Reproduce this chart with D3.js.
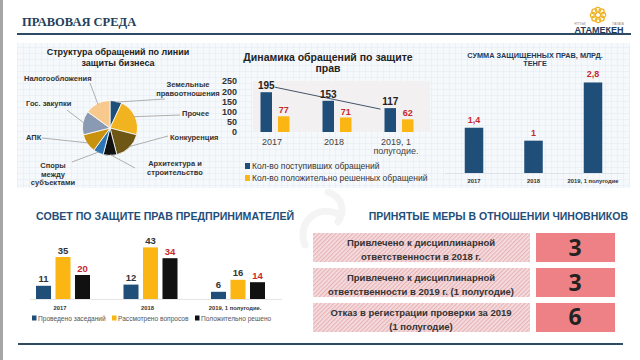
<!DOCTYPE html>
<html>
<head>
<meta charset="utf-8">
<script src="https://cdn.jsdelivr.net/npm/d3@7"></script>
<style>
  body { margin:0; background:#fff; }
  svg { display:block; font-family:"Liberation Sans", Arial, sans-serif; }
</style>
</head>
<body>
<script>
// pie: structure of appeals
var pieLabels = ["Земельные правоотношения","Прочее","Конкуренция","Архитектура и строительство","Споры между субъектами","АПК","Гос. закупки","Налогообложения"];
var pieValues = [7, 22, 17, 8, 6, 11, 14, 15];
var pieColors = ["#1f4e79","#f2b320","#6e5614","#111111","#2e75b6","#c8920f","#8a9ab2","#f7c98c"];

// dynamics of appeals
var dynYears = ["2017","2018","2019, 1 полугодие."];
var dynSeries = ["Кол-во поступивших обращений","Кол-во положительно решенных обращений"];
var dynReceived = [195, 153, 117];
var dynSolved = [77, 71, 62];
var dynTicks = [0, 50, 100, 150, 200, 250];

// sum of protected rights
var sumYears = ["2017","2018","2019, 1 полугодие"];
var sumValues = [1.4, 1, 2.8];
var sumLabels = ["1,4","1","2,8"];

// council
var councilYears = ["2017","2018","2019, 1 полугодие."];
var councilSeries = ["Проведено заседаний","Рассмотрено вопросов","Положительно решено"];
var councilMeetings = [11, 12, 6];
var councilQuestions = [35, 43, 16];
var councilSolved = [20, 34, 14];

// measures
var measureText = [["Привлечено к дисциплинарной","ответственности в 2018 г."],
                   ["Привлечено к дисциплинарной","ответственности в 2019 г. (1 полугодие)"],
                   ["Отказ в регистрации проверки за 2019","(1 полугодие)"]];
var measureValues = [3, 3, 6];

var W = 640, H = 360;
var navy = "#1f4e79", red = "#c8282d";

var svg = d3.select("body").append("svg").attr("width", W).attr("height", H);
var defs = svg.append("defs");

// grid pattern for the upper panels
var grid = defs.append("pattern").attr("id","grid").attr("width",6).attr("height",6)
  .attr("patternUnits","userSpaceOnUse");
grid.append("rect").attr("width",6).attr("height",6).attr("fill","#f6f9fc");
grid.append("path").attr("d","M6 0V6M0 6H6").attr("stroke","#e2eaf3").attr("stroke-width",1);

// hatch for the measures
var hatch = defs.append("pattern").attr("id","hatch").attr("width",3).attr("height",3)
  .attr("patternUnits","userSpaceOnUse").attr("patternTransform","rotate(45)");
hatch.append("rect").attr("width",3).attr("height",3).attr("fill","#f6dfe1");
hatch.append("rect").attr("width",1.3).attr("height",3).attr("fill","#e7b4b8");

// left edge bar
svg.append("rect").attr("x",0).attr("y",0).attr("width",3).attr("height",H).attr("fill","#a6a6a6");

// header
svg.append("text").attr("x",22).attr("y",26).text("ПРАВОВАЯ СРЕДА")
  .attr("font-family","'Liberation Serif', serif").attr("font-weight","bold")
  .attr("font-size",12.5).attr("fill","#23405c");
svg.append("line").attr("x1",17).attr("x2",631).attr("y1",34).attr("y2",34)
  .attr("stroke","#2f4b63").attr("stroke-width",2);

// logo
var logo = svg.append("g").attr("transform","translate(598,15)");
d3.range(8).forEach(function(i){
  var a = i*Math.PI/4;
  logo.append("circle").attr("cx",5*Math.cos(a)).attr("cy",5*Math.sin(a)).attr("r",2.6)
    .attr("fill","none").attr("stroke","#f0b323").attr("stroke-width",1.3);
});
svg.append("text").attr("x",599).attr("y",33).attr("text-anchor","middle").text("АТАМЕКЕН")
  .attr("font-size",9).attr("font-weight","bold").attr("fill","#1f3a5a");
svg.append("text").attr("x",580).attr("y",25).attr("text-anchor","middle").text("ҰЛТТЫҚ")
  .attr("font-size",3).attr("fill","#888");
svg.append("text").attr("x",618).attr("y",25).attr("text-anchor","middle").text("ПАЛАТА")
  .attr("font-size",3).attr("fill","#888");

// watermark
svg.append("path").attr("d","M305 245 C 296 222, 318 204, 338 214 M 328 192 C 342 197, 346 210, 338 222")
  .attr("fill","none").attr("stroke","#f4f4f4").attr("stroke-width",7).attr("stroke-linecap","round");

// panels background
svg.append("rect").attr("x",17).attr("y",43).attr("width",613).attr("height",145).attr("fill","url(#grid)");

// ---------- pie ----------
var pieC = [110, 128], R = 27.5;
var pg = svg.append("g").attr("transform","translate("+pieC+")");
var pie = d3.pie().sort(null)(pieValues);
var arc = d3.arc().innerRadius(0).outerRadius(R);
var edge = d3.arc().innerRadius(R-1).outerRadius(R-1);
pg.selectAll("path").data(pie).enter().append("path")
  .attr("d",arc).attr("fill",function(d,i){return pieColors[i];})
  .attr("stroke","#fff").attr("stroke-width",0.8);

[["Структура  обращений по линии",55],["защиты бизнеса",66]].forEach(function(t){
  svg.append("text").attr("x",118).attr("y",t[1]).attr("text-anchor","middle").text(t[0])
    .attr("font-size",9).attr("font-weight","bold").attr("fill","#222");
});

// label layout: [anchor, x, first baseline, line end x, line end y]
var pieLabelPos = [
  ["middle",188,87,165,99],
  ["start",182,116,180,115],
  ["start",170,140,168,136],
  ["middle",175,166,135,168],
  ["middle",53,168,72,162],
  ["start",26,140,42,138],
  ["start",26,106,67,110],
  ["start",24,81,90,83]
];
var pieLines = [["Земельные","правоотношения"],["Прочее"],["Конкуренция"],["Архитектура и","строительство"],
  ["Споры","между","субъектами"],["АПК"],["Гос. закупки"],["Налогообложения"]];
pie.forEach(function(d,i){
  var p = pieLabelPos[i], c = edge.centroid(d);
  svg.append("line").attr("x1",p[3]).attr("y1",p[4]).attr("x2",pieC[0]+c[0]).attr("y2",pieC[1]+c[1])
    .attr("stroke","#a6a6a6").attr("stroke-width",0.9);
  pieLines[i].forEach(function(s,j){
    svg.append("text").attr("x",p[1]).attr("y",p[2]+j*8.7).attr("text-anchor",p[0]).text(s)
      .attr("font-size",7.5).attr("font-weight","bold").attr("fill","#333");
  });
});

// ---------- dynamics ----------
[["Динамика обращений по защите",61],["прав",72]].forEach(function(t){
  svg.append("text").attr("x",328).attr("y",t[1]).attr("text-anchor","middle").text(t[0])
    .attr("font-size",10.5).attr("font-weight","bold").attr("fill","#222");
});
var dy = d3.scaleLinear().domain([0,250]).range([132,81]);
var dx = d3.scalePoint().domain(dynYears).range([275,399]);
var dIn = d3.scaleBand().domain([0,1]).range([-14.5,14.5]).paddingInner(0.343);
svg.append("rect").attr("x",253).attr("y",dy(250)).attr("width",177).attr("height",dy(0)-dy(250))
  .attr("fill","#f2f0f0");
svg.append("g").attr("transform","translate(240,0)")
  .call(d3.axisLeft(dy).tickValues(dynTicks).tickSize(0).tickPadding(3))
  .call(function(g){g.select(".domain").remove();})
  .selectAll("text").attr("font-size",9).attr("font-weight","bold").attr("fill","#333")
  .attr("font-family","'Liberation Sans', Arial, sans-serif");

var dynData = [dynReceived, dynSolved];
var dynColors = ["#1f4e79","#fbb614"];
dynData.forEach(function(vals,s){
  svg.append("g").selectAll("rect").data(vals).enter().append("rect")
    .attr("x",function(d,i){return dx(dynYears[i])+dIn(s);})
    .attr("y",function(d){return dy(d);})
    .attr("width",dIn.bandwidth()).attr("height",function(d){return dy(0)-dy(d);})
    .attr("fill",dynColors[s]);
});
svg.append("line")
  .attr("x1",dx(dynYears[0])+dIn(0)+dIn.bandwidth()+3).attr("y1",dy(dynReceived[0])-5)
  .attr("x2",dx(dynYears[2])+dIn(0)-4).attr("y2",dy(dynReceived[2])+1)
  .attr("stroke","#44546a").attr("stroke-width",1);
dynData.forEach(function(vals,s){
  svg.append("g").selectAll("text").data(vals).enter().append("text")
    .attr("x",function(d,i){return dx(dynYears[i])+dIn(s)+dIn.bandwidth()/2;})
    .attr("y",function(d){return dy(d)-3;}).attr("text-anchor","middle")
    .text(function(d){return d;})
    .attr("font-size",s?9:10).attr("font-weight","bold").attr("fill",s?red:"#222");
});
dynYears.forEach(function(y){
  var parts = y.indexOf(",")>0 ? [y.slice(0,y.indexOf(",")+1)+" 1","полугодие."] : [y];
  parts.forEach(function(p,j){
    svg.append("text").attr("x",dx(y)-3).attr("y",145+j*8.5).attr("text-anchor","middle").text(p)
      .attr("font-size",9).attr("fill","#444");
  });
});
dynSeries.forEach(function(s,i){
  svg.append("rect").attr("x",245).attr("y",163+i*12).attr("width",5).attr("height",6).attr("fill",dynColors[i]);
  svg.append("text").attr("x",252).attr("y",169+i*12).text(s).attr("font-size",8.5).attr("fill","#333");
});

// ---------- sum ----------
[["СУММА ЗАЩИЩЕННЫХ ПРАВ, МЛРД.",58],["ТЕНГЕ",66]].forEach(function(t){
  svg.append("text").attr("x",535).attr("y",t[1]).attr("text-anchor","middle").text(t[0])
    .attr("font-size",7.3).attr("font-weight","bold").attr("fill","#1f3a5a");
});
var sy = d3.scaleLinear().domain([0,3]).range([173,76]);
var sx = d3.scalePoint().domain(sumYears).range([474,593]);
var sbw = 18.5;
svg.append("line").attr("x1",445).attr("x2",625).attr("y1",173.5).attr("y2",173.5)
  .attr("stroke","#dde3ea").attr("stroke-width",1);
svg.append("g").selectAll("rect").data(sumValues).enter().append("rect")
  .attr("x",function(d,i){return sx(sumYears[i])-sbw/2;}).attr("y",function(d){return sy(d);})
  .attr("width",sbw).attr("height",function(d){return sy(0)-sy(d);}).attr("fill","#1f4e79");
svg.append("g").selectAll("text").data(sumValues).enter().append("text")
  .attr("x",function(d,i){return sx(sumYears[i]);}).attr("y",function(d){return sy(d)-5;})
  .attr("text-anchor","middle").text(function(d,i){return sumLabels[i];})
  .attr("font-size",9).attr("font-weight","bold").attr("fill",red);
sumYears.forEach(function(y){
  svg.append("text").attr("x",sx(y)).attr("y",183).attr("text-anchor","middle").text(y)
    .attr("font-size",5.8).attr("font-weight","bold").attr("fill","#333");
});

// ---------- council ----------
svg.append("text").attr("x",36).attr("y",220).text("СОВЕТ ПО ЗАЩИТЕ ПРАВ ПРЕДПРИНИМАТЕЛЕЙ")
  .attr("font-size",10.6).attr("font-weight","bold").attr("fill",navy);
var cy = d3.scaleLinear().domain([0,35]).range([299,257]);
var cx = d3.scalePoint().domain(councilYears).range([63,238]);
var cIn = d3.scaleBand().domain([0,1,2]).range([-27,27]).paddingInner(0.23);
var cData = [councilMeetings, councilQuestions, councilSolved];
var cColors = ["#1f4e79","#fbb614","#111111"];
svg.append("line").attr("x1",30).attr("x2",282).attr("y1",299.5).attr("y2",299.5)
  .attr("stroke","#e6e6e6").attr("stroke-width",1);
cData.forEach(function(vals,s){
  svg.append("g").selectAll("rect").data(vals).enter().append("rect")
    .attr("x",function(d,i){return cx(councilYears[i])+cIn(s);})
    .attr("y",function(d){return cy(d);})
    .attr("width",cIn.bandwidth()).attr("height",function(d){return cy(0)-cy(d);})
    .attr("fill",cColors[s]);
  svg.append("g").selectAll("text").data(vals).enter().append("text")
    .attr("x",function(d,i){return cx(councilYears[i])+cIn(s)+cIn.bandwidth()/2;})
    .attr("y",function(d){return cy(d)-3.5;}).attr("text-anchor","middle")
    .text(function(d){return d;})
    .attr("font-size",9.5).attr("font-weight","bold").attr("fill",s==2?red:"#333");
});
councilYears.forEach(function(y){
  svg.append("text").attr("x",cx(y)-3).attr("y",309.5).attr("text-anchor","middle").text(y)
    .attr("font-size",5.8).attr("font-weight","bold").attr("fill","#333");
});
var legX = [32, 112, 195];
councilSeries.forEach(function(s,i){
  svg.append("rect").attr("x",legX[i]).attr("y",315.5).attr("width",4.5).attr("height",5).attr("fill",cColors[i]);
  svg.append("text").attr("x",legX[i]+6).attr("y",320.5).text(s).attr("font-size",6.6).attr("fill","#555");
});

// ---------- measures ----------
svg.append("text").attr("x",628).attr("y",219.5).attr("text-anchor","end")
  .text("ПРИНЯТЫЕ МЕРЫ В ОТНОШЕНИИ  ЧИНОВНИКОВ")
  .attr("font-size",10.5).attr("font-weight","bold").attr("fill",navy);
var my = d3.scaleBand().domain(d3.range(measureValues.length)).range([233,332]).paddingInner(0.17);
measureValues.forEach(function(v,i){
  var top = my(i), h = my.bandwidth();
  svg.append("rect").attr("x",313).attr("y",top).attr("width",217).attr("height",h).attr("fill","url(#hatch)");
  svg.append("rect").attr("x",536).attr("y",top).attr("width",79).attr("height",h).attr("fill","#ee8185");
  measureText[i].forEach(function(t,j){
    svg.append("text").attr("x",421).attr("y",top+13+j*14).attr("text-anchor","middle").text(t)
      .attr("font-size",9.5).attr("font-weight","bold").attr("fill","#333");
  });
  svg.append("text").attr("x",575).attr("y",top+h/2+8).attr("text-anchor","middle").text(v)
    .attr("font-family","'Open Sans', sans-serif").attr("font-size",23).attr("font-weight","bold").attr("fill","#222");
});

// bottom rule
svg.append("line").attr("x1",18).attr("x2",623).attr("y1",344).attr("y2",344)
  .attr("stroke","#2f4b63").attr("stroke-width",2);
</script>
</body>
</html>
